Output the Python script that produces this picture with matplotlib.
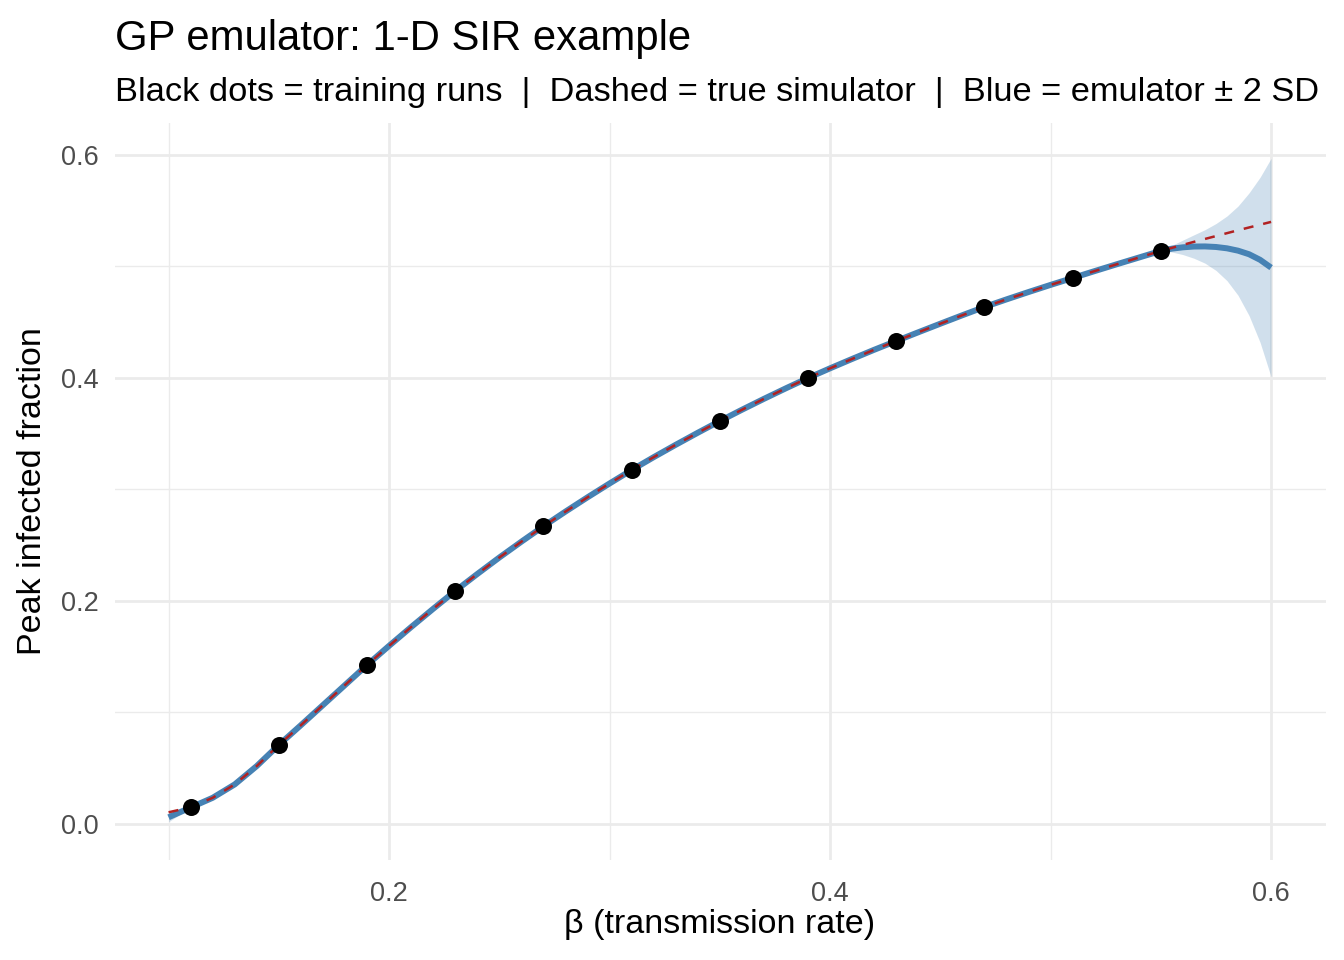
import matplotlib.pyplot as plt
import numpy as np

# training runs
train_beta = [0.11, 0.15, 0.19, 0.23, 0.27, 0.31, 0.35, 0.39, 0.43, 0.47, 0.51, 0.55]
train_peak = [0.0148, 0.0709, 0.1426, 0.209, 0.267, 0.3175, 0.3614, 0.400, 0.4332, 0.4637, 0.4897, 0.514]

# prediction grid (finer at the right edge)
grid_beta = [0.10, 0.11, 0.12, 0.13, 0.14, 0.15, 0.16, 0.17, 0.18, 0.19,
             0.20, 0.21, 0.22, 0.23, 0.24, 0.25, 0.26, 0.27, 0.28, 0.29,
             0.30, 0.31, 0.32, 0.33, 0.34, 0.35, 0.36, 0.37, 0.38, 0.39,
             0.40, 0.41, 0.42, 0.43, 0.44, 0.45, 0.46, 0.47, 0.48, 0.49,
             0.50, 0.51, 0.52, 0.53, 0.54, 0.55,
             0.555, 0.56, 0.565, 0.57, 0.575, 0.58, 0.585, 0.59, 0.595, 0.60]

true_peak = [0.0105, 0.0150, 0.0235, 0.0355, 0.0520, 0.0709, 0.0886, 0.1066, 0.1246, 0.1426,
             0.1598, 0.1766, 0.1930, 0.2090, 0.2242, 0.2390, 0.2532, 0.2670, 0.2802, 0.2930,
             0.3054, 0.3175, 0.3290, 0.3401, 0.3509, 0.3614, 0.3715, 0.3813, 0.3908, 0.4000,
             0.4087, 0.4171, 0.4253, 0.4332, 0.4410, 0.4487, 0.4563, 0.4637, 0.4705, 0.4771,
             0.4835, 0.4897, 0.4959, 0.5020, 0.5080, 0.5140,
             0.5167, 0.5194, 0.5221, 0.5247, 0.5273, 0.5299, 0.5325, 0.5350, 0.5375, 0.5400]

emu_mean = [0.0060, 0.0148, 0.0235, 0.0355, 0.0520, 0.0709, 0.0886, 0.1066, 0.1246, 0.1426,
            0.1598, 0.1766, 0.1930, 0.2090, 0.2242, 0.2390, 0.2532, 0.2670, 0.2802, 0.2930,
            0.3054, 0.3175, 0.3290, 0.3401, 0.3509, 0.3614, 0.3715, 0.3813, 0.3908, 0.4000,
            0.4087, 0.4171, 0.4253, 0.4332, 0.4410, 0.4487, 0.4563, 0.4637, 0.4705, 0.4771,
            0.4835, 0.4897, 0.4959, 0.5020, 0.5080, 0.5140,
            0.5160, 0.5172, 0.5179, 0.5180, 0.5175, 0.5163, 0.5142, 0.5110, 0.5060, 0.4990]

emu_2sd = [0.004, 0.000, 0.000, 0.000, 0.000, 0.000, 0.000, 0.000, 0.000, 0.000,
           0.000, 0.000, 0.000, 0.000, 0.000, 0.000, 0.000, 0.000, 0.000, 0.000,
           0.000, 0.000, 0.000, 0.000, 0.000, 0.000, 0.000, 0.000, 0.000, 0.000,
           0.000, 0.000, 0.000, 0.000, 0.000, 0.000, 0.000, 0.000, 0.000, 0.000,
           0.000, 0.000, 0.000, 0.000, 0.000, 0.000,
           0.003, 0.0065, 0.0105, 0.015, 0.021, 0.029, 0.040, 0.055, 0.074, 0.098]

plt.rcParams['font.family'] = ['Liberation Sans', 'DejaVu Sans']

fig = plt.figure(figsize=(13.44, 9.6), dpi=100)
ax = fig.add_axes([115 / 1344, 1 - 860 / 960, (1326 - 115) / 1344, (860 - 123) / 960])

gb = np.array(grid_beta)
gm = np.array(emu_mean)
gs = np.array(emu_2sd)

ax.fill_between(gb, gm - gs, gm + gs, color='#4682B4', alpha=0.25, linewidth=0, zorder=2)
ax.plot(gb, gm, color='#4682B4', linewidth=4.3, zorder=3, solid_capstyle='butt',
        solid_joinstyle='round')
ax.plot(gb, true_peak, color='#B22222', linewidth=1.8, linestyle=(0, (4, 4)), zorder=4)
ax.scatter(train_beta, train_peak, s=150, color='black', zorder=5, linewidths=0)

ax.set_xlim(0.0757, 0.6249)
ax.set_ylim(-0.0323, 0.6287)
ax.set_xticks([0.2, 0.4, 0.6])
ax.set_xticklabels(['0.2', '0.4', '0.6'])
ax.set_yticks([0.0, 0.2, 0.4, 0.6])
ax.set_yticklabels(['0.0', '0.2', '0.4', '0.6'])
ax.set_xticks([0.1, 0.3, 0.5], minor=True)
ax.set_yticks([0.1, 0.3, 0.5], minor=True)
ax.grid(True, which='major', color='#EBEBEB', linewidth=2.0, zorder=0)
ax.grid(True, which='minor', color='#EBEBEB', linewidth=1.0, zorder=0)
ax.set_axisbelow(True)
ax.tick_params(which='both', length=0, labelsize=19.5, labelcolor='#4D4D4D')
ax.tick_params(axis='x', pad=15)
ax.tick_params(axis='y', pad=12)
for s in ax.spines.values():
    s.set_visible(False)

ax.set_xlabel('β (transmission rate)', fontsize=24.5, va='center')
ax.set_ylabel('Peak infected fraction', fontsize=24.5, va='center')
ax.xaxis.set_label_coords((720 - 115) / 1211, (860 - 925) / 737)
ax.yaxis.set_label_coords((33 - 115) / 1211, (860 - 491) / 737)

fig.text(115 / 1344, 1 - 50 / 960, 'GP emulator: 1-D SIR example', fontsize=30.2, ha='left', va='baseline')
fig.text(115 / 1344, 1 - 101 / 960,
         'Black dots = training runs  |  Dashed = true simulator  |  Blue = emulator ± 2 SD',
         fontsize=24.75, ha='left', va='baseline')

fig.savefig('out.png', dpi=100)
